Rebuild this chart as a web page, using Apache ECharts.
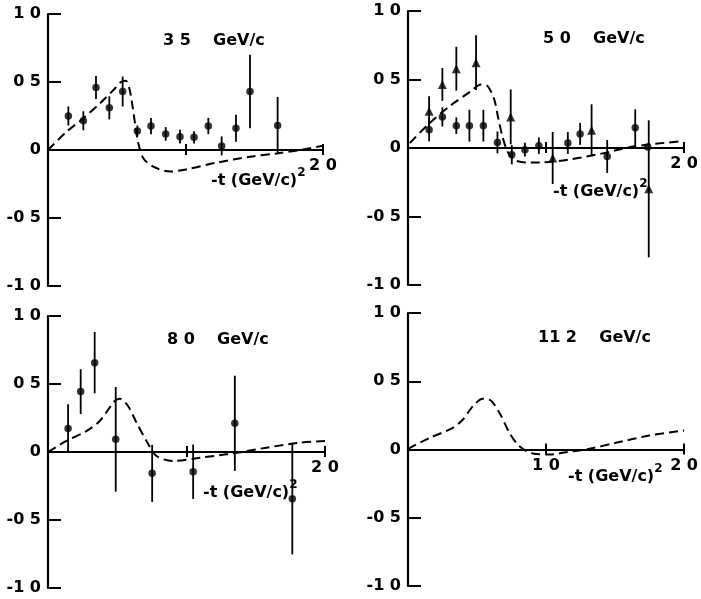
<!DOCTYPE html>
<html>
<head>
<meta charset="utf-8">
<script src="https://cdn.jsdelivr.net/npm/echarts@6/dist/echarts.min.js"></script>
<style>
html,body{margin:0;padding:0;background:#fff;}
#chart{width:701px;height:599px;}
</style>
</head>
<body>
<div id="chart"></div>
<script>
// ---------- Data ----------
const panelTitles = ['3 5    GeV/c', '5 0    GeV/c', '8 0    GeV/c', '11 2    GeV/c'];
const axisCaption = '-t (GeV/c)';
const axisCaptionSup = '2';
const yTickValues = [-1, -0.5, 0, 0.5, 1];
const yTickLabels = ['-1 0', '-0 5', '0', '0 5', '1 0'];
const xTickValuesShown = [[2], [2], [2], [1, 2]];
const xTickLabelText = {1: '1 0', 2: '2 0'};

// 35 GeV/c
const p35X = [0.148, 0.257, 0.349, 0.446, 0.543, 0.65, 0.749, 0.856, 0.96, 1.062, 1.166, 1.263, 1.367, 1.469, 1.67];
const p35Y = [0.25, 0.215, 0.46, 0.31, 0.43, 0.14, 0.176, 0.118, 0.098, 0.093, 0.176, 0.03, 0.16, 0.43, 0.18];
const p35E = [0.07, 0.07, 0.085, 0.085, 0.11, 0.04, 0.06, 0.05, 0.05, 0.045, 0.06, 0.07, 0.1, 0.27, 0.21];
const c35X = [0, 0.136, 0.257, 0.378, 0.475, 0.53, 0.565, 0.59, 0.612, 0.633, 0.657, 0.693, 0.766, 0.887, 1.009, 1.227, 1.469, 1.663, 1.833, 2.0];
const c35Y = [0, 0.135, 0.233, 0.343, 0.44, 0.5, 0.51, 0.46, 0.34, 0.196, 0.049, -0.061, -0.123, -0.159, -0.142, -0.093, -0.049, -0.025, 0, 0.032];

// 50 GeV/c
const t50X = [0.153, 0.249, 0.35, 0.493, 0.744, 1.048, 1.33, 1.744];
const t50Y = [0.268, 0.464, 0.579, 0.623, 0.227, -0.073, 0.129, -0.298];
const t50E = [0.11, 0.12, 0.16, 0.2, 0.2, 0.19, 0.19, 0.5];
const p50X = [0.153, 0.249, 0.35, 0.445, 0.546, 0.648, 0.752, 0.847, 0.948, 1.158, 1.247, 1.443, 1.646, 1.737];
const p50Y = [0.134, 0.227, 0.163, 0.163, 0.163, 0.041, -0.049, -0.012, 0.017, 0.037, 0.103, -0.062, 0.147, 0.007];
const p50E = [0.085, 0.07, 0.06, 0.116, 0.116, 0.08, 0.07, 0.05, 0.06, 0.08, 0.08, 0.12, 0.135, 0.0];
const c50X = [0.014, 0.158, 0.301, 0.45, 0.529, 0.577, 0.625, 0.656, 0.684, 0.72, 0.768, 0.852, 0.947, 1.163, 1.402, 1.641, 1.976];
const c50Y = [0.037, 0.183, 0.305, 0.41, 0.464, 0.451, 0.354, 0.207, 0.085, -0.025, -0.086, -0.105, -0.105, -0.085, -0.041, 0.012, 0.049];

// 80 GeV/c
const p80X = [0.145, 0.236, 0.337, 0.489, 0.752, 1.048, 1.349, 1.764];
const p80Y = [0.172, 0.444, 0.657, 0.093, -0.157, -0.145, 0.211, -0.343];
const p80E = [0.18, 0.165, 0.225, 0.385, 0.21, 0.2, 0.35, 0.41];
const c80X = [0, 0.133, 0.277, 0.373, 0.482, 0.518, 0.578, 0.639, 0.711, 0.783, 0.904, 1.096, 1.337, 1.578, 1.819, 2.0];
const c80Y = [0, 0.081, 0.154, 0.228, 0.375, 0.392, 0.338, 0.216, 0.081, -0.029, -0.066, -0.042, -0.01, 0.032, 0.069, 0.081];

// 11.2 GeV/c
const c112X = [0, 0.157, 0.325, 0.398, 0.47, 0.542, 0.59, 0.663, 0.735, 0.807, 0.904, 1.024, 1.145, 1.313, 1.506, 1.747, 2.0];
const c112Y = [0.005, 0.085, 0.159, 0.22, 0.317, 0.371, 0.366, 0.268, 0.122, 0.024, -0.029, -0.037, -0.02, 0.005, 0.049, 0.102, 0.139];

// ---------- Build ----------
const zip2 = (a, b) => a.map((v, i) => [v, b[i]]);
const zip3 = (a, b, c) => a.map((v, i) => [v, b[i], c[i]]);
const FONT = 'DejaVu Sans, sans-serif';

const grids = [
  {left: 48, top: 14, width: 275, height: 272},
  {left: 408, top: 11, width: 279, height: 274},
  {left: 48, top: 316, width: 277, height: 272},
  {left: 408, top: 313, width: 277, height: 273}
];

const xAxes = [], yAxes = [];
grids.forEach((g, i) => {
  const shown = xTickValuesShown[i];
  const mid = -g.height / 2;
  // lower half: axis line, downward ticks, labels
  xAxes.push({
    type: 'value', gridIndex: i, min: 0, max: 2, interval: 1,
    position: 'bottom', offset: mid,
    axisLine: {show: true, onZero: false, lineStyle: {color: '#000', width: 2.2}},
    axisTick: {show: true, inside: false, length: 5, lineStyle: {color: '#000', width: 2}},
    axisLabel: {show: true, margin: 8, color: '#000', fontSize: 16, fontWeight: 'bold', fontFamily: FONT,
      formatter: v => shown.indexOf(v) >= 0 ? xTickLabelText[v] : ''},
    splitLine: {show: false}
  });
  // upper half of the crossing ticks
  xAxes.push({
    type: 'value', gridIndex: i, min: 0, max: 2, interval: 1,
    position: 'top', offset: mid,
    axisLine: {show: false, onZero: false},
    axisTick: {show: true, inside: false, length: 6, lineStyle: {color: '#000', width: 2}},
    axisLabel: {show: false},
    splitLine: {show: false}
  });
  yAxes.push({
    type: 'value', gridIndex: i, min: -1, max: 1, interval: 0.5,
    axisLine: {show: true, onZero: false, lineStyle: {color: '#000', width: 2.2}},
    axisTick: {show: true, inside: true, length: 13, lineStyle: {color: '#000', width: 2}},
    axisLabel: {show: true, margin: 7, color: '#000', fontSize: 16, fontWeight: 'bold', fontFamily: FONT,
      formatter: v => {
        const k = yTickValues.findIndex(t => Math.abs(t - v) < 1e-9);
        return k >= 0 ? yTickLabels[k] : '';
      }},
    splitLine: {show: false}
  });
});

function errorBars(data, idx) {
  return {
    type: 'custom', xAxisIndex: idx * 2, yAxisIndex: idx, data: data,
    encode: {x: 0, y: 1},
    renderItem: (params, api) => {
      const x = api.value(0), y = api.value(1), e = api.value(2);
      const p1 = api.coord([x, y + e]);
      const p2 = api.coord([x, y - e]);
      return {type: 'line', shape: {x1: p1[0], y1: p1[1], x2: p2[0], y2: p2[1]},
        style: {stroke: '#000', lineWidth: 1.8}};
    },
    silent: true, z: 3
  };
}
function points(data, idx, symbol, size) {
  return {type: 'scatter', xAxisIndex: idx * 2, yAxisIndex: idx, data: data,
    symbol: symbol, symbolSize: size, itemStyle: {color: '#000'}, silent: true, z: 4};
}
function curve(data, idx) {
  return {type: 'line', xAxisIndex: idx * 2, yAxisIndex: idx, data: data,
    smooth: 0.3, showSymbol: false, symbol: 'none', silent: true, z: 2,
    lineStyle: {color: '#000', width: 2, type: [9, 5]}};
}

const series = [
  curve(zip2(c35X, c35Y), 0),
  errorBars(zip3(p35X, p35Y, p35E), 0),
  points(zip2(p35X, p35Y), 0, 'circle', 7.5),

  curve(zip2(c50X, c50Y), 1),
  errorBars(zip3(t50X, t50Y, t50E), 1),
  points(zip2(t50X, t50Y), 1, 'triangle', 9),
  errorBars(zip3(p50X, p50Y, p50E), 1),
  points(zip2(p50X, p50Y), 1, 'circle', 7.5),

  curve(zip2(c80X, c80Y), 2),
  errorBars(zip3(p80X, p80Y, p80E), 2),
  points(zip2(p80X, p80Y), 2, 'circle', 7.5),

  curve(zip2(c112X, c112Y), 3)
];

const titlePos = [[163, 33], [543, 31], [167, 332], [538, 330]];
const captionPos = [[211, 167], [553, 178], [203, 479], [568, 463]];
const graphics = [];
titlePos.forEach((p, i) => {
  graphics.push({type: 'text', left: p[0], top: p[1], silent: true,
    style: {text: panelTitles[i], fill: '#000', font: 'bold 16px ' + FONT}});
});
captionPos.forEach((p, i) => {
  graphics.push({type: 'text', left: p[0], top: p[1], silent: true,
    style: {
      text: '{b|' + axisCaption + '}{s|' + axisCaptionSup + '}',
      rich: {
        b: {fontSize: 16, fontWeight: 'bold', fontFamily: FONT, fill: '#000', lineHeight: 22, verticalAlign: 'bottom'},
        s: {fontSize: 12, fontWeight: 'bold', fontFamily: FONT, fill: '#000', lineHeight: 12, verticalAlign: 'top'}
      }
    }});
});

const chart = echarts.init(document.getElementById('chart'), null, {renderer: 'canvas'});
chart.setOption({
  animation: false,
  backgroundColor: '#fff',
  grid: grids,
  xAxis: xAxes,
  yAxis: yAxes,
  series: series,
  graphic: graphics
});
</script>
</body>
</html>
